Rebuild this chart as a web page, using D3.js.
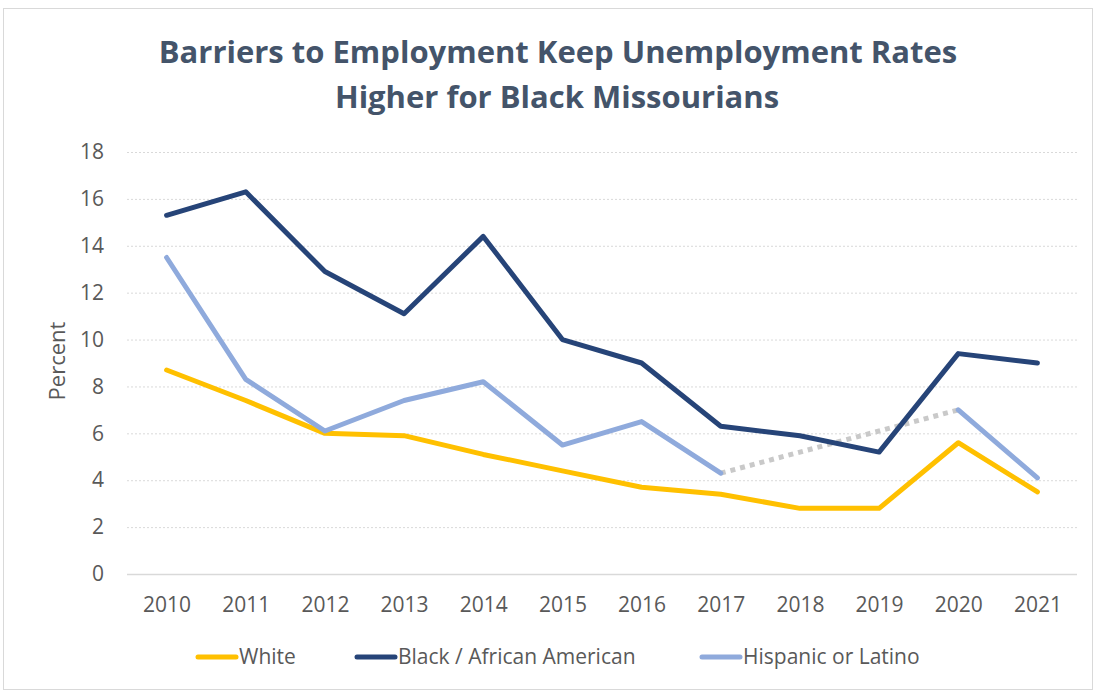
<!DOCTYPE html>
<html>
<head>
<meta charset="utf-8">
<script src="https://cdn.jsdelivr.net/npm/d3@7"></script>
<style>
  body { margin: 0; background: #fff; }
  svg { display: block; }
</style>
</head>
<body>
<div id="chart"></div>
<script>
// data
const years = ["2010", "2011", "2012", "2013", "2014", "2015", "2016", "2017", "2018", "2019", "2020", "2021"]
const white = [8.7, 7.4, 6.0, 5.9, 5.1, 4.4, 3.7, 3.4, 2.8, 2.8, 5.6, 3.5]
const black = [15.3, 16.3, 12.9, 11.1, 14.4, 10.0, 9.0, 6.3, 5.9, 5.2, 9.4, 9.0]
const hispanic = [13.5, 8.3, 6.1, 7.4, 8.2, 5.5, 6.5, 4.3, null, null, 7.0, 4.1]
const yTicks = [0, 2, 4, 6, 8, 10, 12, 14, 16, 18]
const seriesNames = ["White", "Black / African American", "Hispanic or Latino"]
const colors = ["#ffc000", "#264478", "#8faadc"]

const width = 1095
const height = 691
const margin = {top: 152, right: 18, bottom: 117, left: 127}
const font = "'Open Sans', sans-serif"

const svg = d3.select("#chart").append("svg")
    .attr("width", width)
    .attr("height", height)

// chart border
svg.append("rect")
    .attr("x", 3.5).attr("y", 8.5)
    .attr("width", width - 6).attr("height", height - 10)
    .attr("fill", "none").attr("stroke", "#d9d9d9")

const x = d3.scalePoint()
    .domain(years)
    .range([margin.left, width - margin.right])
    .padding(0.5)

const y = d3.scaleLinear()
    .domain([0, 18])
    .range([height - margin.bottom, margin.top])

// titel
const title = svg.append("text")
    .attr("text-anchor", "middle")
    .attr("fill", "#44546a")
    .style("font-family", font)
    .style("font-weight", "bold")
    .style("font-size", "31px")
title.append("tspan").attr("x", 558).attr("y", 63).text("Barriers to Employment Keep Unemployment Rates")
title.append("tspan").attr("x", 557).attr("y", 108).text("Higher for Black Missourians")

// gridlines
svg.append("g")
  .selectAll("line")
    .data(yTicks)
    .enter()
    .append("line")
    .attr("x1", margin.left)
    .attr("x2", width - margin.right)
    .attr("y1", d => y(d) + 0.5)
    .attr("y2", d => y(d) + 0.5)
    .attr("stroke", "#d9d9d9")
    .attr("stroke-width", d => d === 0 ? 1.5 : 1)
    .attr("stroke-dasharray", d => d === 0 ? null : "2,2")

// y-as labels
svg.append("g")
    .attr("transform", "translate(" + (margin.left - 23) + ",0)")
    .call(d3.axisLeft(y).tickValues(yTicks).tickSize(0).tickPadding(0))
    .call(g => g.select(".domain").remove())
    .selectAll("text")
    .attr("fill", "#595959")
    .style("font-family", font)
    .style("font-size", "21px")

// x-as labels
svg.append("g")
    .attr("transform", "translate(0," + (height - margin.bottom + 23) + ")")
    .call(d3.axisBottom(x).tickSize(0).tickPadding(0))
    .call(g => g.select(".domain").remove())
    .selectAll("text")
    .attr("fill", "#595959")
    .attr("dy", "0.71em")
    .style("font-family", font)
    .style("font-size", "21px")

// as titel
svg.append("text")
    .attr("transform", "translate(65," + (y(9) - 2) + ") rotate(-90)")
    .attr("text-anchor", "middle")
    .attr("fill", "#595959")
    .style("font-family", font)
    .style("font-size", "22px")
    .text("Percent")

// gap connector for Hispanic (2017 -> 2020)
svg.append("line")
    .attr("x1", x("2017")).attr("y1", y(hispanic[7]))
    .attr("x2", x("2020")).attr("y2", y(hispanic[10]))
    .attr("stroke", "#c9c9c9")
    .attr("stroke-width", 5)
    .attr("stroke-dasharray", "5,5")

const line = d3.line()
    .defined(d => d.v !== null)
    .x(d => x(d.year))
    .y(d => y(d.v))

const allSeries = [white, black, hispanic]
allSeries.forEach(function(vals, i) {
  const pts = years.map((yr, j) => ({year: yr, v: vals[j]}))
  svg.append("path")
      .datum(pts)
      .attr("fill", "none")
      .attr("stroke", colors[i])
      .attr("stroke-width", 5)
      .attr("stroke-linecap", "round")
      .attr("stroke-linejoin", "round")
      .attr("d", line)
})

// legenda
const legendX = [198, 357, 702]
const legend = svg.append("g")
  .selectAll("g")
    .data(seriesNames)
    .enter()
    .append("g")
    .attr("transform", (d, i) => "translate(" + legendX[i] + ",657)")

legend.append("line")
    .attr("x1", 0).attr("x2", 38)
    .attr("stroke", (d, i) => colors[i])
    .attr("stroke-width", 5)
    .attr("stroke-linecap", "round")

legend.append("text")
    .attr("x", 41)
    .attr("dy", "0.35em")
    .attr("fill", "#595959")
    .style("font-family", font)
    .style("font-size", "21px")
    .text(d => d)
</script>
</body>
</html>
